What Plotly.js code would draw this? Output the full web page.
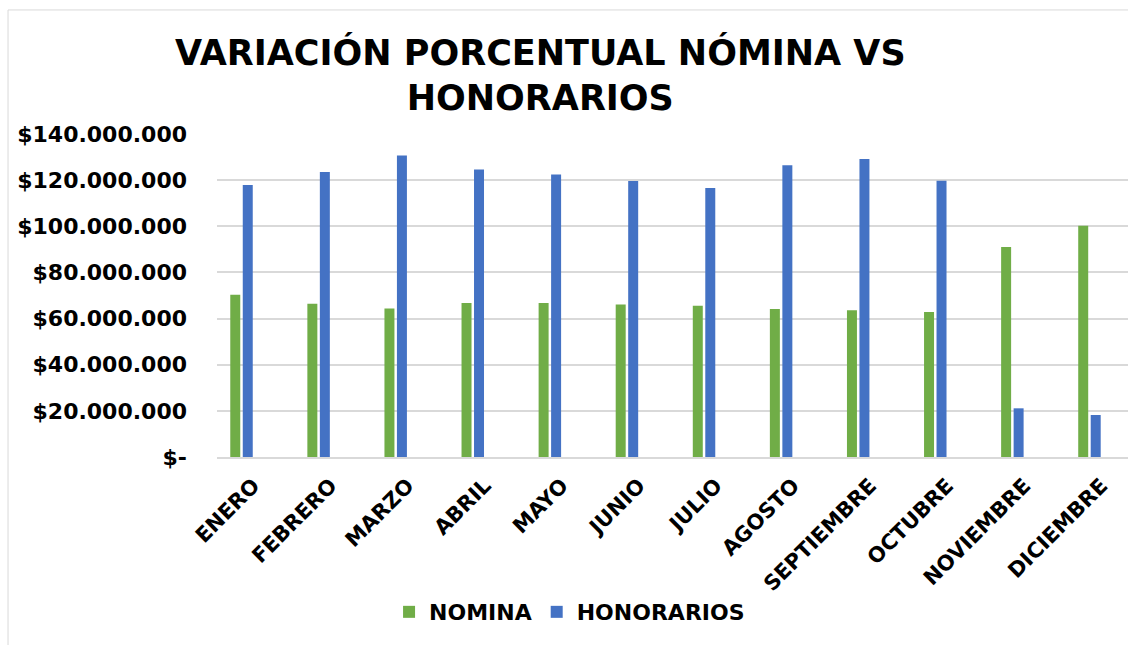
<!DOCTYPE html>
<html>
<head>
<meta charset="utf-8">
<script src="https://cdn.plot.ly/plotly-3.0.1.min.js"></script>
<style>
  body { margin: 0; background: #fff; }
  #chart { width: 1128px; height: 645px; }
</style>
</head>
<body>
<div id="chart"></div>
<script>
// months on the x axis
var meses = ["ENERO", "FEBRERO", "MARZO", "ABRIL", "MAYO", "JUNIO", "JULIO",
  "AGOSTO", "SEPTIEMBRE", "OCTUBRE", "NOVIEMBRE", "DICIEMBRE"];

// values (pesos)
var nomina = [70300000, 66400000, 64400000, 66800000, 66800000, 66100000,
  65600000, 64100000, 63600000, 62900000, 91000000, 100200000];
var honorarios = [117900000, 123500000, 130700000, 124600000, 122500000, 119600000,
  116600000, 126500000, 129200000, 119700000, 21100000, 18200000];

// y axis ticks, Excel accounting style
var yTicks = [0, 20000000, 40000000, 60000000, 80000000, 100000000, 120000000, 140000000];
var yLabels = ["$-", "$20.000.000", "$40.000.000", "$60.000.000", "$80.000.000",
  "$100.000.000", "$120.000.000", "$140.000.000"];

var fuente = "DejaVu Sans, Verdana, sans-serif";

var trace1 = {
  x: meses,
  y: nomina,
  name: "NOMINA",
  type: "bar",
  marker: {color: "#70AD47"}
};

var trace2 = {
  x: meses,
  y: honorarios,
  name: "HONORARIOS",
  type: "bar",
  marker: {color: "#4472C4"}
};

var layout = {
  width: 1128,
  height: 645,
  margin: {l: 217, r: 0, t: 134, b: 188},
  paper_bgcolor: "#fff",
  plot_bgcolor: "#fff",
  font: {family: fuente, color: "#000", size: 21},
  title: {
    text: "<b>VARIACIÓN PORCENTUAL NÓMINA VS<br>HONORARIOS</b>",
    font: {family: fuente, size: 35, color: "#000"},
    x: 0.479,
    xanchor: "center",
    y: 0.90,
    yanchor: "top",
    yref: "container"
  },
  barmode: "group",
  bargap: 0.676,
  bargroupgap: 0.2,
  xaxis: {
    range: [-0.318, 11.5],
    tickangle: -45,
    tickfont: {family: fuente, size: 21, color: "#000", weight: "bold"},
    ticklabelshift: 12,
    ticklabelstandoff: 6,
    showline: true,
    linecolor: "#d9d9d9",
    linewidth: 2,
    ticks: "",
    fixedrange: true
  },
  yaxis: {
    range: [0, 140000000],
    tickvals: yTicks,
    ticktext: yLabels,
    tickfont: {family: fuente, size: 22, color: "#000", weight: "bold"},
    gridcolor: "#d9d9d9",
    gridwidth: 2,
    zeroline: false,
    ticks: "",
    ticklabelstandoff: 29,
    fixedrange: true
  },
  showlegend: true,
  legend: {
    orientation: "h",
    x: 0.387,
    xanchor: "center",
    y: -0.48,
    yanchor: "middle",
    font: {family: fuente, size: 22, color: "#000", weight: "bold"},
    itemwidth: 30
  },
  shapes: [{
    type: "rect",
    xref: "paper", yref: "paper",
    x0: -0.2294, x1: 1.01, y0: -0.62, y1: 1.384,
    line: {color: "#d9d9d9", width: 1}
  }]
};

Plotly.newPlot("chart", [trace1, trace2], layout, {displayModeBar: false});
</script>
</body>
</html>
